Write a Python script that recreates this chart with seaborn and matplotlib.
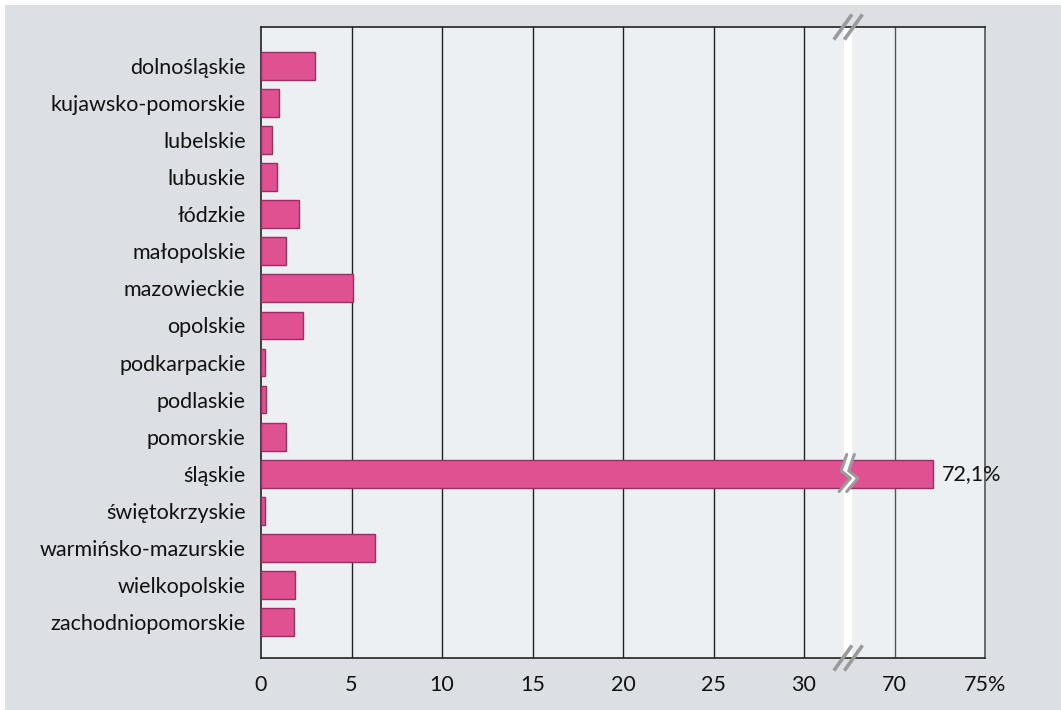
import numpy as np
import pandas as pd
import matplotlib
matplotlib.use('Agg')
import matplotlib.pyplot as plt
from matplotlib.patches import Rectangle, Polygon
import seaborn as sns

# dane
wojewodztwa = ['dolnośląskie', 'kujawsko-pomorskie', 'lubelskie', 'lubuskie', 'łódzkie',
               'małopolskie', 'mazowieckie', 'opolskie', 'podkarpackie', 'podlaskie',
               'pomorskie', 'śląskie', 'świętokrzyskie', 'warmińsko-mazurskie',
               'wielkopolskie', 'zachodniopomorskie']
udzial = [3.0, 1.0, 0.6, 0.9, 2.1, 1.4, 5.1, 2.3, 0.2, 0.3, 1.4, 72.1, 0.2, 6.3, 1.9, 1.8]
tick_vals = [0, 5, 10, 15, 20, 25, 30, 70, 75]
tick_labels = ['0', '5', '10', '15', '20', '25', '30', '70', '75%']

# przerwana oś: 32.5 .. 67.5 wycięte
BREAK_LO, BREAK_HI = 32.5, 67.5
def os_x(v):
    v = np.asarray(v, dtype=float)
    return np.where(v > BREAK_LO, v - (BREAK_HI - BREAK_LO), v)

df = pd.DataFrame({'woj': wojewodztwa, 'x': os_x(udzial)})

sns.set_style('white')
plt.rcParams['font.family'] = ['Lato', 'DejaVu Sans']
FS = 15.5

BG = '#dce0e4'
fig = plt.figure(figsize=(10.61, 7.10), dpi=100, facecolor='white')
fig.patches.append(Rectangle((5 / 1061, 0), 1, 1 - 5 / 710, transform=fig.transFigure,
                             facecolor=BG, edgecolor='none', zorder=-10))
ax = fig.add_axes([261 / 1061, 52 / 710, 724 / 1061, 631 / 710])
ax.set_facecolor('#edf0f3')

sns.barplot(data=df, x='x', y='woj', orient='h', color='#df5190', width=0.75,
            edgecolor='#9c2d60', linewidth=1, saturation=1, ax=ax, zorder=3)

ax.set_xlim(0, float(os_x(75)))
ax.set_ylim(15.97, -1.05)
ax.set_xticks(os_x(tick_vals))
ax.set_xticklabels(tick_labels)
for t in os_x(tick_vals)[1:-2]:
    ax.axvline(t, color='#222222', lw=1, zorder=1)
ax.axvline(float(os_x(70)), color='#555555', lw=1, zorder=1)
ax.tick_params(axis='both', length=0, labelsize=FS, colors='#111111')
ax.tick_params(axis='y', pad=11)
ax.tick_params(axis='x', pad=12)
ax.set_xlabel('')
ax.set_ylabel('')
for s in ax.spines.values():
    s.set_color('#222222')
    s.set_linewidth(1.2)
ax.spines['right'].set_color('#555555')

# biały pas przerwy
ax.axvspan(32.2, 32.65, color='white', zorder=2, lw=0)

# zygzak na słupku śląskie
i = wojewodztwa.index('śląskie')
zz_x = np.array([32.36, 32.05, 32.56, 31.94])
zz_y = np.array([i - 0.52, i - 0.08, i + 0.12, i + 0.48])
off = 0.42
ax.add_patch(Polygon(np.column_stack([np.r_[zz_x, (zz_x + off)[::-1]],
                                      np.r_[zz_y, zz_y[::-1]]]),
                     closed=True, facecolor='white', edgecolor='none', zorder=4))
ax.plot(zz_x, zz_y, color='#9a9a9a', lw=2.2, zorder=5)
ax.plot(zz_x + off, zz_y, color='#9a9a9a', lw=2.2, zorder=5)

# znaczniki // na górze i dole
trans = ax.get_xaxis_transform()
dy = 0.02
for yb in (0, 1):
    for xc in (32.15, 32.73):
        ax.plot([xc - 0.5, xc + 0.5], [yb - dy, yb + dy], color='#9a9a9a', lw=2.6,
                transform=trans, clip_on=False, zorder=6, solid_capstyle='butt')

ax.text(float(os_x(udzial[i])) + 0.5, i, '72,1%', va='center', ha='left',
        fontsize=FS, color='#111111', zorder=6)

fig.savefig('out.png', dpi=100, facecolor=fig.get_facecolor())
